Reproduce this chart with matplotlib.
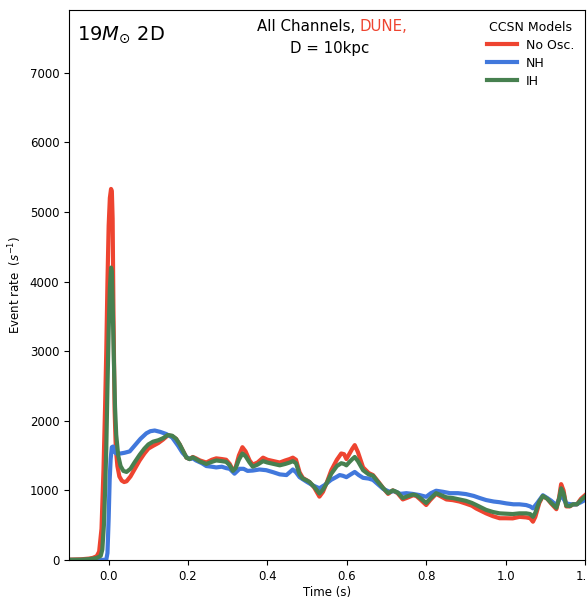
import numpy as np
import matplotlib
matplotlib.use("Agg")
import matplotlib.pyplot as plt

# No oscillation
t_noosc = [-0.10, -0.07, -0.05, -0.04, -0.03, -0.024, -0.018, -0.013, -0.009, -0.006,
           -0.003, 0.000, 0.003, 0.006, 0.008, 0.010, 0.012, 0.015, 0.018, 0.022,
           0.027, 0.033, 0.039, 0.045, 0.055, 0.065, 0.078, 0.090, 0.100, 0.112,
           0.125, 0.137, 0.149, 0.160, 0.170, 0.179, 0.188, 0.196, 0.204, 0.212,
           0.220, 0.230, 0.246, 0.260, 0.271, 0.285, 0.296, 0.305, 0.313, 0.320,
           0.328, 0.337, 0.345, 0.355, 0.363, 0.375, 0.389, 0.400, 0.415, 0.431,
           0.445, 0.456, 0.464, 0.472, 0.481, 0.489, 0.500, 0.506, 0.518, 0.531,
           0.540, 0.550, 0.561, 0.575, 0.586, 0.593, 0.599, 0.607, 0.614, 0.620,
           0.628, 0.641, 0.655, 0.666, 0.680, 0.692, 0.704, 0.716, 0.728, 0.741,
           0.755, 0.767, 0.775, 0.785, 0.800, 0.810, 0.825, 0.838, 0.851, 0.867,
           0.884, 0.900, 0.915, 0.926, 0.940, 0.951, 0.968, 0.985, 1.000, 1.018,
           1.035, 1.052, 1.062, 1.069, 1.075, 1.085, 1.094, 1.105, 1.115, 1.128,
           1.135, 1.140, 1.146, 1.153, 1.162, 1.170, 1.180, 1.190, 1.200]
r_noosc = [5, 10, 20, 30, 55, 120, 450, 1300, 2200, 3000,
           4000, 4800, 5200, 5330, 5300, 4900, 3600, 2150, 1600, 1350,
           1200, 1140, 1120, 1130, 1200, 1300, 1430, 1530, 1600, 1640,
           1680, 1730, 1790, 1780, 1740, 1660, 1560, 1470, 1450, 1480,
           1460, 1430, 1400, 1440, 1460, 1450, 1440, 1380, 1290, 1330,
           1500, 1620, 1560, 1430, 1370, 1400, 1470, 1440, 1420, 1400,
           1430, 1450, 1470, 1440, 1260, 1180, 1140, 1120, 1040, 910,
           980, 1120, 1290, 1440, 1530, 1520, 1450, 1530, 1600, 1650,
           1550, 1330, 1250, 1220, 1120, 1030, 950, 1000, 960, 870,
           900, 930, 920, 870, 790, 860, 950, 910, 870, 860,
           840, 810, 780, 740, 700, 670, 630, 600, 600, 598,
           620, 612, 600, 550, 620, 820, 920, 880, 810, 730,
           900, 1090, 1000, 770, 770, 800, 800, 880, 930]

# Normal hierarchy
t_nh = [-0.10, -0.05, -0.02, -0.006, -0.003, 0.000, 0.0025, 0.005, 0.008, 0.011,
        0.014, 0.019, 0.030, 0.040, 0.053, 0.065, 0.080, 0.095, 0.105, 0.116,
        0.130, 0.145, 0.160, 0.175, 0.186, 0.196, 0.204, 0.212, 0.220, 0.235,
        0.246, 0.260, 0.271, 0.285, 0.296, 0.305, 0.317, 0.330, 0.340, 0.350,
        0.363, 0.380, 0.397, 0.415, 0.431, 0.448, 0.464, 0.472, 0.481, 0.500,
        0.515, 0.531, 0.545, 0.560, 0.573, 0.582, 0.590, 0.599, 0.610, 0.620,
        0.630, 0.641, 0.655, 0.666, 0.680, 0.692, 0.708, 0.720, 0.735, 0.750,
        0.765, 0.783, 0.800, 0.812, 0.825, 0.842, 0.860, 0.880, 0.900, 0.920,
        0.935, 0.951, 0.970, 0.985, 1.002, 1.020, 1.035, 1.052, 1.062, 1.069,
        1.080, 1.094, 1.105, 1.115, 1.128, 1.140, 1.153, 1.165, 1.178, 1.190,
        1.200]
r_nh = [0, 0, 0, 5, 100, 600, 1150, 1450, 1620, 1630,
        1560, 1530, 1530, 1540, 1560, 1640, 1740, 1820, 1850, 1860,
        1840, 1810, 1760, 1640, 1540, 1480, 1450, 1460, 1430, 1390,
        1350, 1340, 1330, 1340, 1320, 1310, 1240, 1310, 1310, 1280,
        1285, 1300, 1290, 1260, 1230, 1220, 1300, 1260, 1190, 1120,
        1070, 1030, 1080, 1150, 1190, 1220, 1210, 1190, 1230, 1265,
        1220, 1180, 1170, 1150, 1080, 1020, 980, 990, 950, 960,
        950, 933, 908, 960, 995, 980, 960, 960, 947, 920,
        890, 861, 840, 830, 813, 800, 800, 789, 770, 742,
        820, 930, 890, 851, 789, 933, 813, 800, 799, 830,
        861]

# Inverted hierarchy
t_ih = [-0.10, -0.07, -0.05, -0.04, -0.03, -0.02, -0.016, -0.012, -0.009, -0.006,
        -0.003, 0.000, 0.003, 0.006, 0.008, 0.010, 0.013, 0.016, 0.019, 0.024,
        0.030, 0.037, 0.045, 0.055, 0.065, 0.078, 0.090, 0.100, 0.112, 0.125,
        0.137, 0.149, 0.160, 0.170, 0.179, 0.188, 0.196, 0.204, 0.212, 0.220,
        0.230, 0.246, 0.260, 0.271, 0.285, 0.296, 0.305, 0.313, 0.320, 0.328,
        0.337, 0.345, 0.355, 0.363, 0.375, 0.389, 0.400, 0.415, 0.431, 0.445,
        0.456, 0.464, 0.472, 0.481, 0.489, 0.500, 0.506, 0.518, 0.531, 0.540,
        0.550, 0.561, 0.575, 0.586, 0.593, 0.599, 0.607, 0.614, 0.620, 0.628,
        0.641, 0.655, 0.666, 0.680, 0.692, 0.704, 0.716, 0.728, 0.741, 0.755,
        0.767, 0.775, 0.785, 0.800, 0.810, 0.825, 0.838, 0.851, 0.867, 0.884,
        0.900, 0.915, 0.926, 0.940, 0.951, 0.968, 0.985, 1.000, 1.018, 1.035,
        1.052, 1.062, 1.069, 1.075, 1.085, 1.094, 1.105, 1.115, 1.128, 1.135,
        1.140, 1.146, 1.153, 1.162, 1.170, 1.180, 1.190, 1.200]
r_ih = [3, 5, 12, 20, 30, 60, 150, 500, 1000, 1600,
        2500, 3300, 3900, 4200, 4150, 3700, 2900, 2200, 1800, 1500,
        1350, 1280, 1265, 1310, 1400, 1510, 1600, 1660, 1700, 1720,
        1750, 1795, 1785, 1740, 1660, 1560, 1470, 1450, 1475, 1450,
        1415, 1380, 1410, 1430, 1420, 1410, 1360, 1280, 1320, 1440,
        1530, 1490, 1400, 1340, 1370, 1420, 1400, 1380, 1360, 1380,
        1400, 1420, 1390, 1230, 1170, 1140, 1120, 1050, 955, 1010,
        1110, 1240, 1350, 1390, 1380, 1360, 1410, 1450, 1480, 1420,
        1290, 1230, 1210, 1110, 1030, 960, 1000, 970, 890, 920,
        940, 930, 890, 820, 880, 960, 930, 900, 890, 870,
        850, 820, 790, 750, 720, 690, 670, 665, 660, 670,
        670, 660, 620, 680, 840, 920, 880, 820, 750, 880,
        1030, 960, 780, 775, 800, 800, 860, 910]

series = [
    (t_noosc, r_noosc, "No Osc.", "#ee4430"),
    (t_nh, r_nh, "NH", "#4178dc"),
    (t_ih, r_ih, "IH", "#47804f"),
]

fig = plt.figure(figsize=(5.87, 5.99), dpi=100)
ax = fig.add_axes([0.1175, 0.0651, 0.879, 0.9182])

for t, r, lab, col in series:
    ax.plot(t, r, color=col, lw=3, label=lab)

ax.set_xlim(-0.1, 1.2)
ax.set_ylim(0, 7900)
ax.set_xticks(np.arange(0, 1.21, 0.2))
ax.set_yticks(np.arange(0, 7001, 1000))
ax.tick_params(labelsize=8.5)
ax.set_xlabel("Time (s)", fontsize=8.5, labelpad=2)
ax.set_ylabel(r"Event rate  $(s^{-1})$", fontsize=8.5)

ax.text(0.0155, 0.9545, r"19$M_{\odot}$ 2D", transform=ax.transAxes,
        fontsize=14, va="center", ha="left")
# first line of the heading has a two-colour split
ax.text(0.564, 0.9696, "All Channels, ", transform=ax.transAxes,
        fontsize=10.8, va="center", ha="right")
ax.text(0.564, 0.9696, "DUNE,", transform=ax.transAxes,
        fontsize=10.8, va="center", ha="left", color="#ee4430")
ax.text(0.505, 0.9304, "D = 10kpc", transform=ax.transAxes,
        fontsize=10.8, va="center", ha="center")

leg = ax.legend(title="CCSN Models", loc="upper right", frameon=False,
                fontsize=9, title_fontsize=9, handlelength=2.4,
                handletextpad=0.75, borderaxespad=0.45, labelspacing=0.4)

fig.savefig("out.png", dpi=100)
